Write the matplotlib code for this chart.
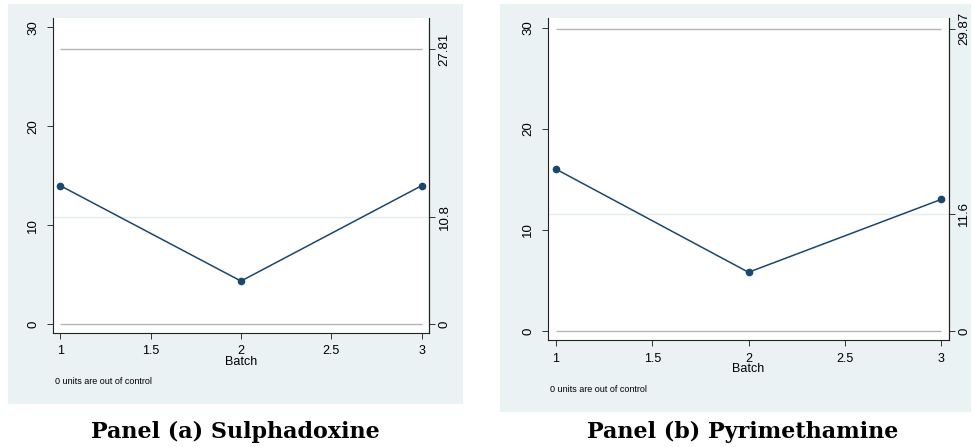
import matplotlib
matplotlib.use("Agg")
import matplotlib.pyplot as plt
from matplotlib.patches import Rectangle
import numpy as np

# data
batches = [1, 2, 3]
sulpha_vals = [14.0, 4.35, 14.0]
sulpha_limits = [0, 10.8, 27.81]
pyri_vals = [16.0, 5.8, 13.0]
pyri_limits = [0, 11.6, 29.87]
left_ticks = [0, 10, 20, 30]
x_ticks = [1, 1.5, 2, 2.5, 3]
captions = ["Panel (a) Sulphadoxine", "Panel (b) Pyrimethamine"]
note = "0 units are out of control"

W, H = 972, 447
fig = plt.figure(figsize=(W / 100, H / 100), dpi=100)
fig.patch.set_facecolor("white")

bg = "#eaf2f3"
navy = "#1a476f"
sans = ["Liberation Sans", "DejaVu Sans"]


def px(x0, y0, x1, y1):
    # pixel box (top-left origin) -> figure fraction rect
    return [x0 / W, (H - y1) / H, (x1 - x0) / W, (y1 - y0) / H]


def panel(box, bgbox, vals, limits, cap_xy, note_xy):
    r = px(*bgbox)
    fig.patches.append(Rectangle((r[0], r[1]), r[2], r[3], transform=fig.transFigure,
                                 facecolor=bg, edgecolor="none", zorder=-5))
    ax = fig.add_axes(px(*box))
    ax.set_facecolor("white")
    lcl, cl, ucl = limits
    ax.axhline(cl, color="#e3ecef", lw=1.0, zorder=1)
    ax.hlines([lcl, ucl], batches[0], batches[-1], color="#b4b4b4", lw=1.0, zorder=1)
    ax.plot(batches, vals, color=navy, lw=1.1, marker="o", ms=4.5, zorder=3)
    ax.set_xlim(0.96, 3.04)
    ax.set_ylim(-0.9, 30.95)
    ax.set_xticks(x_ticks)
    ax.set_xticklabels([f"{t:g}" for t in x_ticks], fontsize=9, family=sans)
    ax.set_yticks(left_ticks)
    ax.set_yticklabels([str(t) for t in left_ticks], fontsize=9.5, family=sans,
                       rotation=90, va="center")
    ax.tick_params(direction="out", length=4, width=0.7, color="#333333")
    ax.tick_params(axis="x", pad=5)
    ax.tick_params(axis="y", pad=6)
    ax.set_xlabel("Batch", fontsize=9, family=sans, labelpad=-1)
    ax.spines["top"].set_visible(False)
    for s in ["left", "bottom", "right"]:
        ax.spines[s].set_linewidth(0.8)
        ax.spines[s].set_color("#222222")
    ax2 = ax.twinx()
    ax2.set_ylim(ax.get_ylim())
    ax2.set_yticks(limits)
    ax2.set_yticklabels([f"{v:g}" for v in limits], fontsize=9.5, family=sans,
                        rotation=90, va="center")
    ax2.tick_params(direction="out", length=4, width=0.7, color="#333333", pad=3)
    for s in ["top", "left", "bottom"]:
        ax2.spines[s].set_visible(False)
    ax2.spines["right"].set_linewidth(0.8)
    ax2.spines["right"].set_color("#222222")
    fig.text(note_xy[0] / W, 1 - note_xy[1] / H, note, fontsize=6.5, family=sans,
             va="center", ha="left")
    fig.text(cap_xy[0] / W, 1 - cap_xy[1] / H, cap_xy[2], fontsize=16, family="DejaVu Serif",
             weight="bold", ha="center", va="center")
    return ax


panel((53, 18, 429, 333), (8, 4, 463, 404), sulpha_vals, sulpha_limits,
      (235, 432, captions[0]), (55, 381))
panel((548.3, 18, 948.7, 340), (500, 4, 971, 412), pyri_vals, pyri_limits,
      (743, 432, captions[1]), (550, 389))

fig.savefig("out.png", dpi=100)
